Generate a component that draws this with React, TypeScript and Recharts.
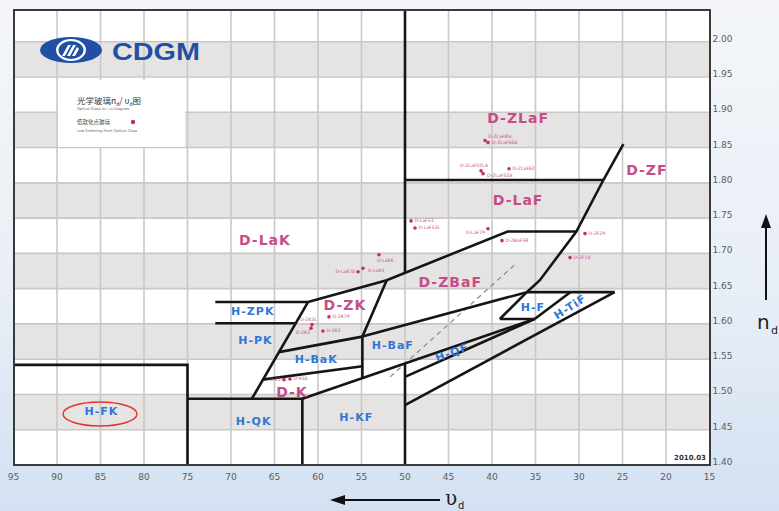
import React from 'react';
import { ComposedChart, Line, Scatter, XAxis, YAxis, ReferenceArea, ReferenceLine } from 'recharts';

// axis ticks
const abbeTicks = [95, 90, 85, 80, 75, 70, 65, 60, 55, 50, 45, 40, 35, 30, 25, 20, 15];
const indexTicks = [1.4, 1.45, 1.5, 1.55, 1.6, 1.65, 1.7, 1.75, 1.8, 1.85, 1.9, 1.95, 2.0];
const grayBands = [[1.45, 1.5], [1.55, 1.6], [1.65, 1.7], [1.75, 1.8], [1.85, 1.9], [1.95, 2.0]];

// region boundaries as [vd, nd] polylines
const fkBox = [[95, 1.542], [75, 1.542], [75, 1.4]];
const qkBox = [[75, 1.494], [61.8, 1.494], [61.8, 1.4]];
const kfTop = [[61.8, 1.494], [35.1, 1.607]];
const kfRight = [[50, 1.544], [50, 1.4]];
const qfBottom = [[50, 1.525], [35.1, 1.607]];
const tifBottom = [[50, 1.485], [25.9, 1.645]];
const fTop = [[36.0, 1.645], [25.9, 1.645]];
const fLeft = [[39.1, 1.607], [36.0, 1.645]];
const fBottom = [[39.1, 1.607], [35.1, 1.607]];
const fRight = [[35.1, 1.607], [31.0, 1.645]];
const bafTop = [[54.9, 1.582], [36.0, 1.645]];
const zkRight = [[52.1, 1.662], [54.9, 1.582], [54.9, 1.523]];
const bakTop = [[64.5, 1.56], [54.9, 1.582]];
const kTop = [[66.4, 1.521], [54.9, 1.54]];
const pkRight = [[67.6, 1.494], [61.15, 1.631]];
const zpkTop = [[71.8, 1.631], [61.15, 1.631]];
const zpkBottom = [[71.8, 1.601], [62.6, 1.601]];
const zbafTop = [[61.15, 1.631], [52.1, 1.662], [38.2, 1.731], [30.3, 1.731]];
const lakRight = [[50, 2.045], [50, 1.672]];
const lafTop = [[50, 1.804], [27.2, 1.804]];
const zfLeft = [[24.9, 1.855], [27.2, 1.804], [30.3, 1.731], [34.5, 1.662], [36.0, 1.645]];
const boundaries = [fkBox, qkBox, kfTop, kfRight, qfBottom, tifBottom, fTop, fLeft, fBottom, fRight,
  bafTop, zkRight, bakTop, kTop, pkRight, zpkTop, zpkBottom, zbafTop, lakRight, lafTop, zfLeft];
const dashedGuide = [[51.7, 1.525], [37.1, 1.687]];

// region names and where they sit
const regionNames = ['D-ZLaF', 'D-ZF', 'D-LaF', 'D-LaK', 'D-ZBaF', 'D-ZK', 'D-K', 'H-ZPK', 'H-PK', 'H-BaK',
  'H-BaF', 'H-QF', 'H-F', 'H-TiF', 'H-KF', 'H-QK', 'H-FK'];
const regionAbbe = [37.0, 22.2, 37.0, 66.1, 44.8, 56.9, 63.0, 67.5, 67.2, 60.2, 51.4, 44.6, 35.3, 31.0, 55.6, 67.4, 84.9];
const regionIndex = [1.892, 1.818, 1.776, 1.719, 1.66, 1.627, 1.504, 1.617, 1.576, 1.55, 1.57, 1.559, 1.623, 1.624, 1.468, 1.462, 1.476];

// low softening point glasses
const glassNames = ['D-ZLaF85L', 'D-ZLaF50A', 'D-ZLaF52LA', 'D-ZLaF52A', 'D-ZLaF62', 'D-LaF53', 'D-LaF52L', 'D-LaF79',
  'D-ZBaF58', 'D-ZF29', 'D-ZF10', 'D-LaK6', 'D-LaK5', 'D-LaK70', 'D-ZK79', 'D-ZK3L', 'D-ZK3', 'D-ZK2', 'D-K2', 'D-K50'];
const glassAbbe = [40.8, 40.46, 41.26, 41.03, 38.05, 49.31, 48.85, 40.46, 38.85, 29.31, 31.03, 52.99, 54.83, 55.4, 58.74, 60.69, 60.8, 59.43, 63.91, 63.22];
const glassIndex = [1.86, 1.857, 1.817, 1.813, 1.82, 1.746, 1.736, 1.735, 1.718, 1.728, 1.694, 1.698, 1.679, 1.674, 1.61, 1.599, 1.594, 1.59, 1.521, 1.522];

// label placement for the glass tags: dx, dy, anchor
const glassLabelPos: Record<string, [number, number, string]> = {
  'D-ZLaF85L': [3, -3, 'start'], 'D-ZLaF50A': [4, 1.5, 'start'], 'D-ZLaF52LA': [7, -4, 'end'], 'D-ZLaF52A': [4, 3, 'start'],
  'D-LaF79': [-3, 5, 'end'], 'D-LaK6': [-2, 7, 'start'], 'D-LaK5': [5, 4, 'start'], 'D-LaK70': [-3, 1.5, 'end'],
  'D-ZK3L': [5, -4, 'end'], 'D-ZK3': [-1, 6, 'end'], 'D-K2': [-3, 1.5, 'end'],
};

const toPts = (arr: number[][]) => arr.map(([v, n]) => ({ v, n }));
const regionData = regionNames.map((name, i) => ({ name, v: regionAbbe[i], n: regionIndex[i] }));
const glassData = glassNames.map((name, i) => ({ name, v: glassAbbe[i], n: glassIndex[i] }));

const PINK = '#c64d89';
const BLUE = '#2f76d6';

const RegionLabel = (props: any) => {
  const { cx, cy, payload } = props;
  const isD = payload.name.startsWith('D');
  const angle = payload.name === 'H-QF' ? -20 : payload.name === 'H-TiF' ? -33 : 0;
  return (
    <text x={cx} y={cy} textAnchor="middle" dominantBaseline="central"
      transform={angle ? `rotate(${angle} ${cx} ${cy})` : undefined}
      fontFamily="DejaVu Sans" fontWeight="bold" fontSize={isD ? 14 : 11}
      letterSpacing={1} fill={isD ? PINK : BLUE}>
      {payload.name}
    </text>
  );
};

const GlassDot = (props: any) => {
  const { cx, cy, payload } = props;
  const [dx, dy, anchor] = glassLabelPos[payload.name] || [3.5, 1.5, 'start'];
  return (
    <g>
      <circle cx={cx} cy={cy} r={1.8} fill="#c0306e" />
      <text x={cx + dx} y={cy + dy} textAnchor={anchor} fontSize={4.6} fontFamily="DejaVu Sans" fill={PINK}>
        {payload.name}
      </text>
    </g>
  );
};

const YTick = (props: any) => {
  const { x, y, payload } = props;
  return (
    <text x={x} y={y - 3} textAnchor="start" dominantBaseline="central" fontSize={9}
      fontFamily="DejaVu Sans" fill="#5c5c5c">
      {Number(payload.value).toFixed(2)}
    </text>
  );
};

export default function App() {
  return (
    <div style={{
      position: 'absolute', left: 0, top: 0, width: 779, height: 511, overflow: 'hidden',
      background: 'linear-gradient(180deg, #f4f6f9 0%, #e9eff7 55%, #d3e1f2 100%)',
    }}>
      <div style={{ position: 'absolute', left: 14, top: 10, width: 696, height: 455, background: '#fff' }} />
      <div style={{ position: 'absolute', left: 0, top: 0 }}>
        <ComposedChart width={779} height={511} margin={{ top: 10, right: 9.5, bottom: 16, left: 13.5 }}>
          <XAxis type="number" dataKey="v" domain={[15, 95]} reversed allowDataOverflow ticks={abbeTicks}
            interval={0} axisLine={false} tickLine={false} tickSize={0} tickMargin={9} height={30}
            tick={{ fill: '#5c5c5c', fontSize: 9, fontFamily: 'DejaVu Sans' }} />
          <YAxis type="number" dataKey="n" orientation="right" domain={[1.4, 2.045]} allowDataOverflow
            ticks={indexTicks} interval={0} axisLine={false} tickLine={false} tickSize={0} tickMargin={3}
            width={60} tick={<YTick />} />
          {grayBands.map(([a, b]) => (
            <ReferenceArea key={`band${a}`} y1={a} y2={b} fill="#e5e4e2" fillOpacity={1} stroke="none" />
          ))}
          {abbeTicks.filter(t => t > 15 && t < 95).map(t => (
            <ReferenceLine key={`gx${t}`} x={t} stroke="#c8c8c8" strokeWidth={1.6} />
          ))}
          {indexTicks.filter(t => t > 1.4).map(t => (
            <ReferenceLine key={`gy${t}`} y={t} stroke="#c8c8c8" strokeWidth={1.6} />
          ))}
          <Line data={toPts(dashedGuide)} dataKey="n" stroke="#8a8a8a" strokeWidth={1.2} strokeDasharray="5 4"
            dot={false} activeDot={false} isAnimationActive={false} type="linear" />
          {boundaries.map((b, i) => (
            <Line key={`b${i}`} data={toPts(b)} dataKey="n" stroke="#151515" strokeWidth={2.6}
              dot={false} activeDot={false} isAnimationActive={false} type="linear" />
          ))}
          <Scatter data={glassData} shape={GlassDot} isAnimationActive={false} />
          <Scatter data={regionData} shape={RegionLabel} isAnimationActive={false} />
        </ComposedChart>
      </div>
      <svg width={779} height={511} style={{ position: 'absolute', left: 0, top: 0, pointerEvents: 'none' }}>
        <rect x={14} y={10} width={696} height={455} fill="none" stroke="#3a3a3a" strokeWidth={2} />
        {/* H-FK highlight */}
        <ellipse cx={100} cy={414} rx={37} ry={12} fill="none" stroke="#e03434" strokeWidth={1.4} />
        {/* logo */}
        <ellipse cx={71} cy={50} rx={31} ry={13} fill="#1f50a5" />
        <ellipse cx={71} cy={50} rx={15} ry={11} fill="#fff" />
        <ellipse cx={71} cy={50} rx={12.5} ry={9} fill="#1f50a5" />
        <path d="M62 56 L68 45 L71 45 L65 56 Z M67 56 L73 45 L76 45 L70 56 Z M72 56 L77 47 L79 49 L75 56 Z" fill="#fff" />
        <text x={112} y={60} fontFamily="Liberation Sans" fontWeight="bold" fontSize={24} fill="#1f50a5"
          textLength={88} lengthAdjust="spacingAndGlyphs">CDGM</text>
        {/* info box */}
        <rect x={58} y={80} width={127} height={67} fill="#fff" />
        <text x={77} y={104} fontFamily="Noto Sans CJK SC" fontSize={8.5} fill="#333">
          光学玻璃n<tspan fontSize={5} dy={1.5}>d</tspan><tspan dy={-1.5}>/ υ</tspan><tspan fontSize={5} dy={1.5}>d</tspan><tspan dy={-1.5}>图</tspan>
        </text>
        <text x={77} y={110} fontFamily="DejaVu Sans" fontSize={3.6} fill="#666">Optical Glass n<tspan fontSize={2.6}>d</tspan> / υ<tspan fontSize={2.6}>d</tspan> Diagram</text>
        <text x={77} y={124} fontFamily="Noto Sans CJK SC" fontSize={5.5} fill="#444">低软化点玻璃</text>
        <circle cx={133} cy={122} r={2.2} fill="#c0306e" />
        <text x={77} y={132} fontFamily="DejaVu Sans" fontSize={3.6} fill="#666">Low Softening Point Optical Glass</text>
        {/* edition */}
        <rect x={671} y={451} width={38} height={13} fill="#fff" />
        <text x={690} y={460} textAnchor="middle" fontFamily="DejaVu Sans" fontWeight="bold" fontSize={7} fill="#333">2010.03</text>
        {/* axis titles */}
        <line x1={766} y1={300} x2={766} y2={226} stroke="#111" strokeWidth={2} />
        <polygon points="761,228 771,228 766,214" fill="#111" />
        <text x={757} y={329} fontFamily="DejaVu Sans" fontSize={20} fill="#222">n</text>
        <text x={771} y={334} fontFamily="DejaVu Sans" fontSize={11} fill="#222">d</text>
        <line x1={440} y1={500} x2={343} y2={500} stroke="#111" strokeWidth={2} />
        <polygon points="345,495 345,505 330,500" fill="#111" />
        <text x={445} y={505} fontFamily="DejaVu Serif" fontSize={20} fill="#222">υ</text>
        <text x={458} y={509} fontFamily="DejaVu Sans" fontSize={10} fill="#222">d</text>
      </svg>
    </div>
  );
}
